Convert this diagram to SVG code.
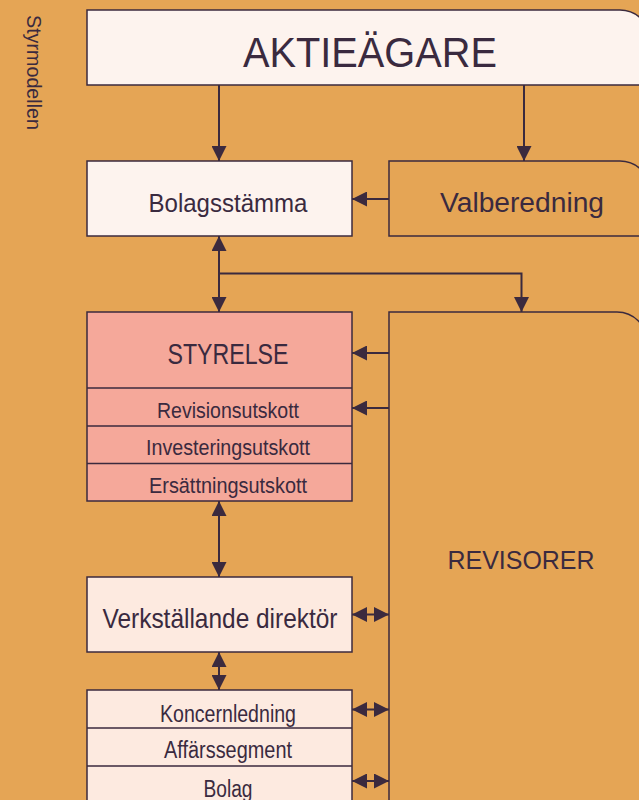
<svg xmlns="http://www.w3.org/2000/svg" width="639" height="800" viewBox="0 0 639 800">
  <style>
    .box { stroke: #3b2a3e; stroke-width: 1.5; }
    .light { fill: #fdf3ee; }
    .warm { fill: #fdeae0; }
    .board { fill: #f5a89a; }
    .sep { stroke: #3b2a3e; stroke-width: 1.5; fill: none; }
    .lbl { font-family: "Liberation Sans", Arial, sans-serif; fill: #3a2a3f; text-anchor: middle; }
    .link { stroke: #3b2a3e; stroke-width: 2; fill: none; }
  </style>
  <defs>
    <marker id="head" viewBox="0 0 15 15" refX="15" refY="7.5" markerWidth="15" markerHeight="15" markerUnits="userSpaceOnUse" orient="auto-start-reverse">
      <path d="M0,0 L15,7.5 L0,15 z" fill="#3b2a3e"/>
    </marker>
  </defs>

  <rect width="639" height="800" fill="#e5a555"/>

  <text class="lbl" transform="translate(27,15) rotate(90)" style="text-anchor:start" font-size="20" textLength="115" lengthAdjust="spacingAndGlyphs">Styrmodellen</text>

  <g id="aktieagare">
    <path class="box light" d="M87,10 H620 A30,30 0 0 1 650,40 V85 H87 Z"/>
    <text class="lbl" x="370" y="67" font-size="42" textLength="254" lengthAdjust="spacingAndGlyphs">AKTIEÄGARE</text>
  </g>

  <g id="bolagsstamma">
    <rect class="box light" x="87" y="161" width="265" height="75"/>
    <text class="lbl" x="228" y="212" font-size="26" textLength="159" lengthAdjust="spacingAndGlyphs">Bolagsstämma</text>
  </g>

  <g id="valberedning">
    <path class="box" fill="#e5a555" d="M389,161 H620 A30,30 0 0 1 650,191 V236 H389 Z"/>
    <text class="lbl" x="522" y="212" font-size="27" textLength="164" lengthAdjust="spacingAndGlyphs">Valberedning</text>
  </g>

  <g id="styrelse">
    <rect class="box board" x="87" y="312" width="265" height="189"/>
    <path class="sep" d="M87,388 H352 M87,426 H352 M87,463.5 H352"/>
    <text class="lbl" x="228" y="364" font-size="29" textLength="121" lengthAdjust="spacingAndGlyphs">STYRELSE</text>
    <text class="lbl" x="228" y="418" font-size="22.5" textLength="142" lengthAdjust="spacingAndGlyphs">Revisionsutskott</text>
    <text class="lbl" x="228" y="455" font-size="22.5" textLength="164" lengthAdjust="spacingAndGlyphs">Investeringsutskott</text>
    <text class="lbl" x="228" y="493" font-size="22.5" textLength="158" lengthAdjust="spacingAndGlyphs">Ersättningsutskott</text>
  </g>

  <g id="revisorer">
    <path class="box" fill="#e5a555" d="M389,312 H617 A30,30 0 0 1 647,342 V812 H389 Z"/>
    <text class="lbl" x="521" y="569" font-size="26.5" textLength="147" lengthAdjust="spacingAndGlyphs">REVISORER</text>
  </g>

  <g id="vd">
    <rect class="box warm" x="87" y="577" width="265" height="75"/>
    <text class="lbl" x="220" y="628" font-size="28" textLength="235" lengthAdjust="spacingAndGlyphs">Verkställande direktör</text>
  </g>

  <g id="organisation">
    <rect class="box warm" x="87" y="690" width="265" height="122"/>
    <path class="sep" d="M87,728 H352 M87,766 H352"/>
    <text class="lbl" x="228" y="722" font-size="23" textLength="136" lengthAdjust="spacingAndGlyphs">Koncernledning</text>
    <text class="lbl" x="228" y="758" font-size="23" textLength="128" lengthAdjust="spacingAndGlyphs">Affärssegment</text>
    <text class="lbl" x="228" y="797" font-size="23" textLength="49" lengthAdjust="spacingAndGlyphs">Bolag</text>
  </g>

  <g id="connectors">
    <!-- owners to AGM and nomination committee -->
    <line class="link" x1="219" y1="85" x2="219" y2="161" marker-end="url(#head)"/>
    <line class="link" x1="524" y1="85" x2="524" y2="161" marker-end="url(#head)"/>
    <!-- nomination committee to AGM -->
    <line class="link" x1="389" y1="199" x2="352" y2="199" marker-end="url(#head)"/>
    <!-- AGM and board -->
    <line class="link" x1="219" y1="236" x2="219" y2="312" marker-start="url(#head)" marker-end="url(#head)"/>
    <!-- AGM to auditors -->
    <path class="link" d="M219,273.5 H521.5 V312" marker-end="url(#head)"/>
    <!-- auditors to board and audit committee -->
    <line class="link" x1="389" y1="353" x2="352" y2="353" marker-end="url(#head)"/>
    <line class="link" x1="389" y1="408" x2="352" y2="408" marker-end="url(#head)"/>
    <!-- board and CEO -->
    <line class="link" x1="219" y1="501" x2="219" y2="577" marker-start="url(#head)" marker-end="url(#head)"/>
    <!-- CEO and management -->
    <line class="link" x1="219" y1="652" x2="219" y2="690" marker-start="url(#head)" marker-end="url(#head)"/>
    <!-- auditors two-way links -->
    <line class="link" x1="352" y1="614.5" x2="389" y2="614.5" marker-start="url(#head)" marker-end="url(#head)"/>
    <line class="link" x1="352" y1="709.5" x2="389" y2="709.5" marker-start="url(#head)" marker-end="url(#head)"/>
    <line class="link" x1="352" y1="781" x2="389" y2="781" marker-start="url(#head)" marker-end="url(#head)"/>
  </g>
</svg>
